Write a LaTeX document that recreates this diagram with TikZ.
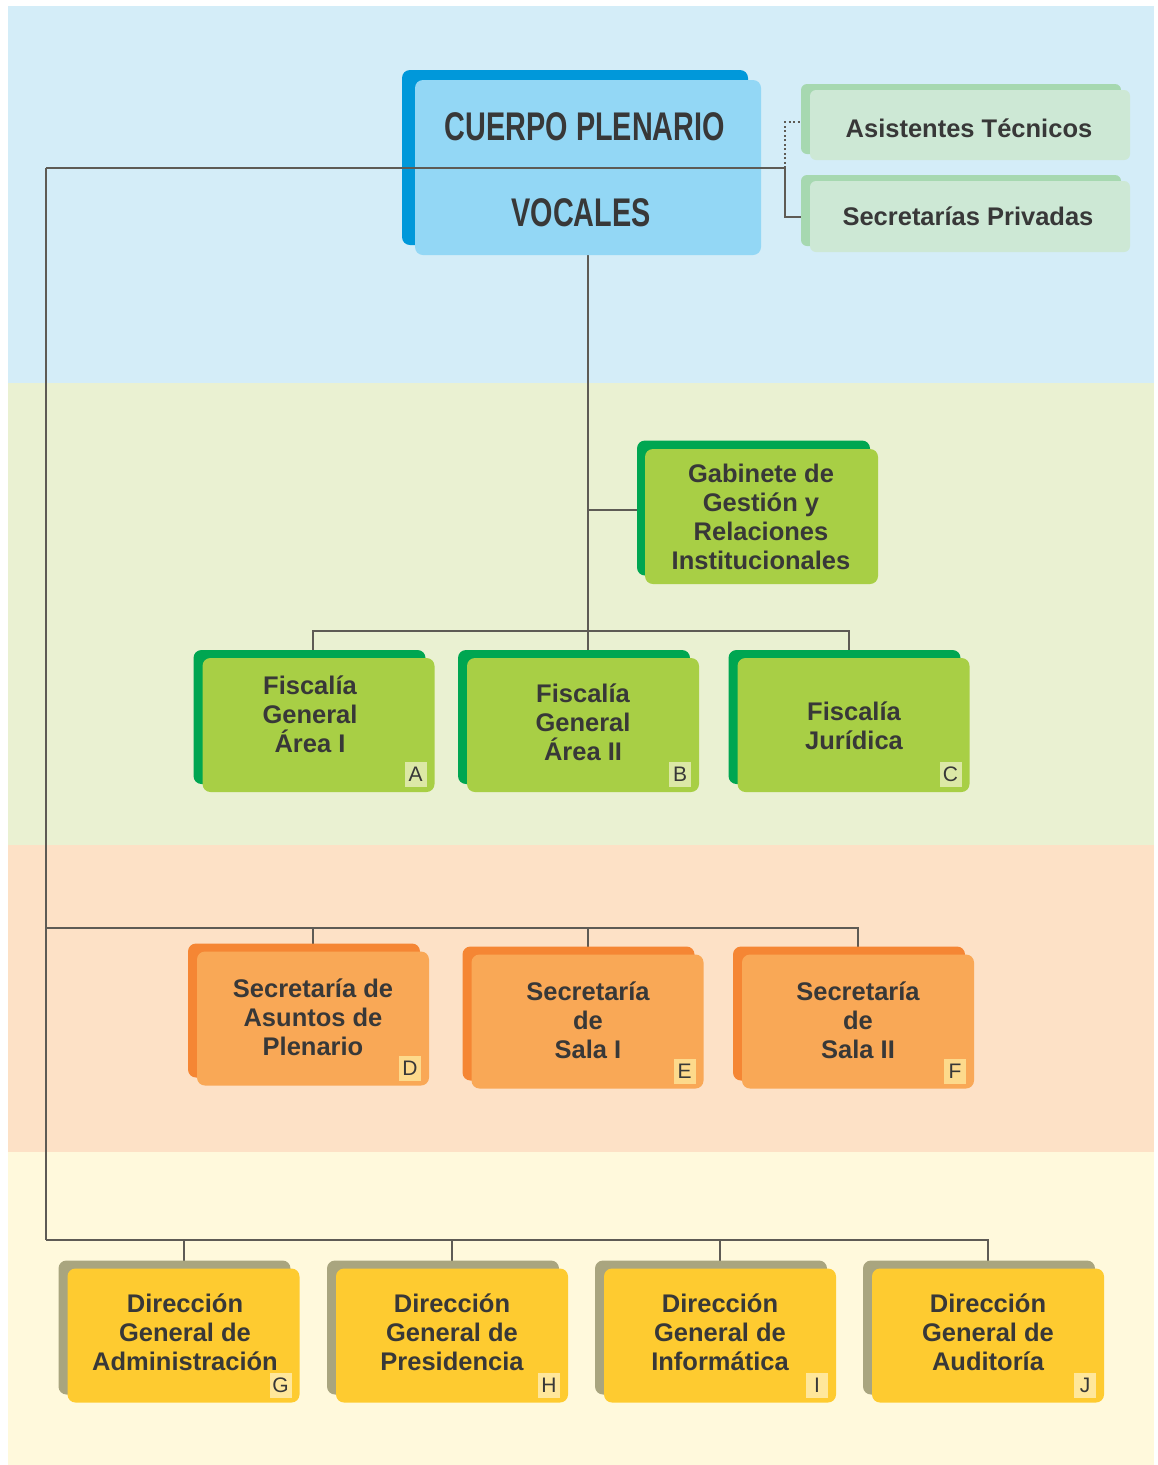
\documentclass[tikz,border=0pt]{standalone}
\usepackage{fontspec}
\setmainfont{Liberation Sans}
\newfontfamily\condfont[FakeStretch=0.72]{Liberation Sans}
\definecolor{bandblue}{HTML}{D4EDF8}
\definecolor{bandgreen}{HTML}{EAF1D2}
\definecolor{bandpeach}{HTML}{FDE1C6}
\definecolor{bandyellow}{HTML}{FFF9DC}
\definecolor{topback}{HTML}{0098DA}
\definecolor{topfront}{HTML}{93D7F5}
\definecolor{mintback}{HTML}{A6D8B0}
\definecolor{mintfront}{HTML}{CDE8D5}
\definecolor{greenback}{HTML}{00A651}
\definecolor{greenfront}{HTML}{A8CF45}
\definecolor{greenbadge}{HTML}{DCE8A6}
\definecolor{orangeback}{HTML}{F58634}
\definecolor{orangefront}{HTML}{F9A856}
\definecolor{orangebadge}{HTML}{FDDA8C}
\definecolor{yellowback}{HTML}{A9A57F}
\definecolor{yellowfront}{HTML}{FECB30}
\definecolor{yellowbadge}{HTML}{FFE79B}
\definecolor{txt}{HTML}{383838}
\definecolor{linec}{HTML}{5E5B55}
\pgfdeclarelayer{bands}
\pgfdeclarelayer{lines}
\pgfdeclarelayer{over}
\pgfsetlayers{bands,lines,main,over}
\newcommand\obox[8]{%
  \node[backbox,#4back] (#1b) at (#2-9,#3-8) {};
  \node[frontbox,#4front] (#1) at (#2,#3) {};
  \node[lbl] (#1t) at (#7,#8) {#5};
  \node[badge,#4badge] (#1l) at ([xshift=-8pt,yshift=5pt]#1.south east) {#6};
}
\begin{document}
\begin{tikzpicture}[x=1pt,y=-1pt,
  backbox/.style={rounded corners=8pt,minimum width=232,minimum height=134,inner sep=0,draw=none},
  frontbox/.style={rounded corners=8pt,minimum width=232,minimum height=134,inner sep=0,draw=none},
  lbl/.style={font=\fontsize{25.5}{29}\selectfont\bfseries,text=txt,align=center,inner sep=0},
  badge/.style={font=\fontsize{21}{21}\selectfont,text=txt,minimum width=22,minimum height=25,inner sep=0,anchor=south east},
  gback/.style={fill=greenback},gfront/.style={fill=greenfront},gbadge/.style={fill=greenbadge},
  oback/.style={fill=orangeback},ofront/.style={fill=orangefront},obadge/.style={fill=orangebadge},
  yback/.style={fill=yellowback},yfront/.style={fill=yellowfront},ybadge/.style={fill=yellowbadge},
  conn/.style={draw=linec,line width=2pt},
  dotconn/.style={draw=linec,line width=1.6pt,dash pattern=on 2pt off 2.5pt},
]
\useasboundingbox (0,0) rectangle (1158,1465);
\begin{pgfonlayer}{bands}
  \fill[white] (0,0) rectangle (1158,1465);
  \fill[bandblue] (8,6) rectangle (1154,383);
  \fill[bandgreen] (8,383) rectangle (1154,845);
  \fill[bandpeach] (8,845) rectangle (1154,1152);
  \fill[bandyellow] (8,1152) rectangle (1154,1465);
\end{pgfonlayer}

% top box
\node[rounded corners=8pt,minimum width=346,minimum height=175,inner sep=0,fill=topback] (CPb) at (575,157.5) {};
\node[rounded corners=8pt,minimum width=346,minimum height=175,inner sep=0,fill=topfront] (CP) at (588,167.5) {};
\node[font=\condfont\fontsize{40}{40}\selectfont\bfseries,text=txt,inner sep=0] (CPt1) at (585,127) {CUERPO PLENARIO};
\node[font=\condfont\fontsize{40}{40}\selectfont\bfseries,text=txt,inner sep=0] (CPt2) at (581,213) {VOCALES};

% assistants
\node[rounded corners=6pt,minimum width=320,minimum height=70,inner sep=0,fill=mintback] (ATb) at (961,119) {};
\node[rounded corners=6pt,minimum width=320,minimum height=70,inner sep=0,fill=mintfront] (AT) at (970,125) {};
\node[lbl] (ATt) at (969,128) {Asistentes Técnicos};
\node[rounded corners=6pt,minimum width=320,minimum height=71,inner sep=0,fill=mintback] (SPb) at (961,210.5) {};
\node[rounded corners=6pt,minimum width=320,minimum height=71,inner sep=0,fill=mintfront] (SP) at (970,216.5) {};
\node[lbl] (SPt) at (968,216) {Secretarías Privadas};

% gabinete
\node[backbox,gback,minimum width=233,minimum height=135] (GGb) at (753.5,508) {};
\node[frontbox,gfront,minimum width=233,minimum height=135] (GG) at (761.5,516.5) {};
\node[lbl] (GGt) at (761,517) {Gabinete de\\Gestión y\\Relaciones\\Institucionales};

% fiscalias
\obox{A}{318.5}{725}{g}{Fiscalía\\General\\Área I}{A}{310}{714}
\obox{B}{583}{725}{g}{Fiscalía\\General\\Área II}{B}{583}{722}
\obox{C}{853.5}{725}{g}{Fiscalía\\Jurídica}{C}{854}{725.5}
% secretarias
\obox{D}{313}{1018.5}{o}{Secretaría de\\Asuntos de\\Plenario}{D}{313}{1017}
\obox{E}{587.5}{1021.5}{o}{Secretaría\\de\\Sala I}{E}{588}{1020}
\obox{F}{858}{1021.5}{o}{Secretaría\\de\\Sala II}{F}{858}{1020}
% direcciones
\obox{G}{183.5}{1335.5}{y}{Dirección\\General de\\Administración}{G}{185}{1332}
\obox{H}{452}{1335.5}{y}{Dirección\\General de\\Presidencia}{H}{452}{1332}
\obox{I}{720}{1335.5}{y}{Dirección\\General de\\Informática}{I}{720}{1332}
\obox{J}{988}{1335.5}{y}{Dirección\\General de\\Auditoría}{J}{988}{1332}

% connectors
\coordinate (tl) at (46,168);
\coordinate (rj) at (785,168);
\coordinate (busF) at (588,631);
\coordinate (gj) at (588,510);
\coordinate (busO) at (46,928);
\coordinate (busY) at (46,1240);
\begin{pgfonlayer}{lines}
  \draw[conn] (tl) -- (busY);
  \draw[conn] (rj) |- (SP.west);
  \draw[dotconn] (rj) |- ([yshift=3pt]AT.west);
  \draw[conn] (CP.south) -- (busF);
  \draw[conn] (gj) -- (gj -| GGb.west);
  \draw[conn] (busF) -| ([xshift=-5.5pt]A.north);
  \draw[conn] (busF) -- ([xshift=5pt]B.north);
  \draw[conn] (busF) -| ([xshift=-4.5pt]C.north);
  \draw[conn] (busO) -| (D.north);
  \draw[conn] (busO) -| ([xshift=0.5pt]E.north);
  \draw[conn] (busO) -| (F.north);
  \draw[conn] (busY) -| ([xshift=0.5pt]G.north);
  \draw[conn] (busY) -| (H.north);
  \draw[conn] (busY) -| (I.north);
  \draw[conn] (busY) -| (J.north);
\end{pgfonlayer}
\begin{pgfonlayer}{over}
  \draw[conn] (tl) -- (rj);
\end{pgfonlayer}
\end{tikzpicture}
\end{document}
